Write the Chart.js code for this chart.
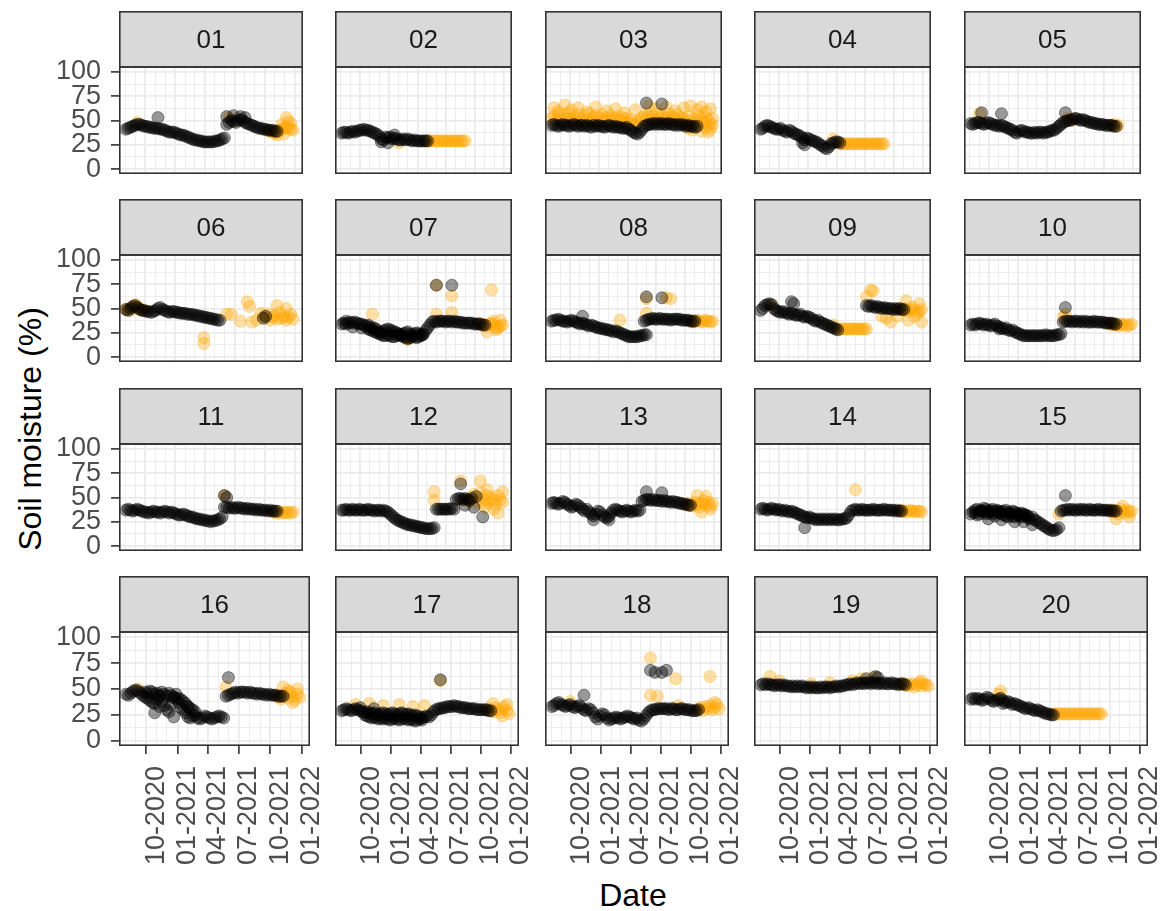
<!DOCTYPE html>
<html>
<head>
<meta charset="utf-8">
<title>Soil moisture by plot</title>
<script src="https://cdn.jsdelivr.net/npm/chart.js@4.4.1/dist/chart.umd.min.js"></script>
<style>
  html, body { margin: 0; padding: 0; background: #ffffff; }
  body { position: relative; width: 1168px; height: 911px; overflow: hidden;
         font-family: "Liberation Sans", Arial, Helvetica, sans-serif; }
  canvas { position: absolute; }
  .axis-title { position: absolute; font-size: 32px; color: #000000; white-space: nowrap; line-height: 1; }
  #ytitle { left: 30px; top: 429px; transform: translate(-50%, -50%) rotate(-90deg); }
  #xtitle { left: 633px; top: 879px; transform: translateX(-50%); }
</style>
</head>
<body>
<div id="ytitle" class="axis-title">Soil moisture (%)</div>
<div id="xtitle" class="axis-title">Date</div>
<script>
// ---------------------------------------------------------------------------
// Axis breaks
// ---------------------------------------------------------------------------
const xBreaks = ['2020-10-01', '2021-01-01', '2021-04-01', '2021-07-01', '2021-10-01', '2022-01-01'];
const xMinorBreaks = ['2020-08-01', '2020-09-01', '2020-11-01', '2020-12-01', '2021-02-01', '2021-03-01',
                      '2021-05-01', '2021-06-01', '2021-08-01', '2021-09-01', '2021-11-01', '2021-12-01'];
const yBreaks = [0, 25, 50, 75, 100];
const yMinorBreaks = [12.5, 37.5, 62.5, 87.5];

// ---------------------------------------------------------------------------
// Soil moisture readings per plot.
//   blackNN / orangeNN : weekly runs  [first date, [values...]]  (one value every 7 days)
//   blackDotsNN / orangeDotsNN : single readings [date, value]
// black = measured, orange = gap-filled
// ---------------------------------------------------------------------------
const black01 = [['2020-08-03', [41,42,43,44,45,46,46,45,44,44, 43,43,42,42,42,41,41,40,39,38, 38,38,37,36,35,35,34,33,32,31,
  30,30,29,29,28,28,28,28,28,29, 29,30,31,32, 46,48,50,49,48,50, 51,50,48,47,46,45,44,43,42,42, 41,41,40,40,40,39,39]]];
const orange01 = [['2021-10-11', [40,39,38,37,38,40,41,42,43,42,41,40]]];
const blackDots01 = [['2020-11-09',53],['2021-06-07',54],['2021-06-28',55],['2021-07-19',54],['2021-08-02',53]];
const orangeDots01 = [['2020-09-07',48],['2021-06-14',53],['2021-11-08',35],['2021-11-22',46],['2021-11-29',36],
  ['2021-12-06',53],['2021-12-13',49],['2021-12-20',47]];

const black02 = [['2020-08-03', [37,38,38,37,38,39,38,39,40,40, 41,40,40,39,38,37,36,34,31,30, 33,32,33,31,32,31,30,30,31,30,
  31,30,29,30,29,29,29,29,29,29]]];
const orange02 = [['2021-04-26', [29,29,29,29,29,29,29,29,29,29,29,29,29,29,29,29,29,29,29]]];
const blackDots02 = [['2020-12-07',28],['2020-12-28',27],['2021-01-18',35]];
const orangeDots02 = [['2021-02-01',27]];

const black03 = [['2020-08-03', [45,46,45,44,45,46,45,45,44,45, 46,45,44,45,45,44,45,44,43,45, 44,45,44,44,43,44,45,44,43,44,
  43,43,42,42,43,41,40,38,37,36, 38,41,44,45,46,46,47,46,47,46, 47,46,46,47,46,46,45,46,45,46, 45,44,45,44,44,43,44]]];
const orange03 = [['2020-08-03', [52,55,50,57,53,49,56,52,58,51, 54,50,56,52,49,55,51,57,50,53, 55,50,52,56,49,53,51,55,50,52,
  54,50,53,49,52,48,51,47,45,48, 50,53,55,52,56,51,54,50,57,52, 55,51,53,57,50,54,52,56,49,53, 51,48,54,50,47,52,49,55,51,48,
  53,50,46,52]]];
const blackDots03 = [['2021-05-31',68],['2021-07-19',67]];
const orangeDots03 = [['2020-08-10',63],['2020-08-24',60],['2020-09-14',66],['2020-10-05',61],['2020-10-26',63],['2020-11-23',59],
  ['2020-12-21',64],['2021-01-25',60],['2021-02-22',62],['2021-03-22',58],['2021-04-26',61],['2021-06-07',65],['2021-06-28',62],
  ['2021-08-02',64],['2021-08-30',60],['2021-09-27',63],['2021-10-18',65],['2021-11-08',61],['2021-11-22',64],['2021-12-06',59],
  ['2021-12-20',62],['2021-10-11',42],['2021-10-25',40],['2021-11-08',44],['2021-11-22',39],['2021-12-06',43],['2021-12-13',38],
  ['2021-12-20',41],['2021-12-27',45]];

const black04 = [['2020-08-03', [41,42,44,45,44,43,42,41,41,42, 40,39,38,40,39,37,36,35,34,32, 30,32,31,30,29,28,27,25,24,22,
  21,23,26,27,28,28,27]]];
const orange04 = [['2021-04-12', [26,26,26,26,26,26,26,26,26,26, 26,26,26,26,26,26,26,26,26,26, 26]]];
const blackDots04 = [['2020-12-14',27],['2020-12-21',25]];
const orangeDots04 = [['2021-03-22',31]];

const black05 = [['2020-08-03', [47,46,47,48,48,47,46,47,48,47, 46,45,45,44,45,44,43,42,41,40, 38,37,39,40,39,38,38,37,37,38,
  37,38,38,37,38,38,39,40,40,42, 44,46,48,49,50,50,51,52,52,51, 50,51,50,49,48,48,47,47,46,46, 46,45,45,45,45,44,44]]];
const orange05 = [['2021-10-25', [45,46,44,45]]];
const blackDots05 = [['2020-09-07',58],['2020-11-09',57],['2021-05-31',58]];
const orangeDots05 = [['2020-08-31',57],['2021-06-07',52],['2021-06-21',50]];

const black06 = [['2020-08-03', [49,48,50,52,53,51,49,48,48,47, 47,46,47,48,50,51,49,48,47,46, 47,47,46,46,45,45,45,44,44,44,
  43,43,42,42,41,41,40,40,39,39, 38,38]]];
const orange06 = [['2020-08-03', [49,50,48,51,54,52,50,49,48]],
  ['2021-09-20', [45,42,40,44,38,41,43,39,46,40,42,38,41,44,39]]];
const blackDots06 = [['2021-09-27',40],['2021-10-04',42]];
const orangeDots06 = [['2021-03-29',20],['2021-03-29',14],['2021-06-07',44],['2021-06-21',44],['2021-07-19',37],
  ['2021-08-09',57],['2021-08-16',52],['2021-08-23',36],['2021-09-06',38],['2021-11-08',53],['2021-12-06',50]];

const black07 = [['2020-08-03', [34,35,34,35,36,35,36,35,34,34, 33,32,33,31,30,30,28,26,25,27, 28,29,28,27,26,25,24,23,24,25,
  26,24,23,24,25,24,23,24,27,30, 33,36,37,36,37,37,37,36,37,37, 36,37,36,36,36,35,35,35,35,35, 34,34,34,34,33,33]],
  ['2020-10-26', [29,28,27,26,25,24,23,22,22,23, 22,21,21,22,23,22,21,20,19,20, 21,21,20,21,22,23]]];
const orange07 = [['2021-10-11', [35,34,33,33,32,34,35,33,31,30,32,33]]];
const blackDots07 = [['2020-08-17',37],['2020-09-07',31],['2020-10-05',30],['2021-05-31',74],['2021-07-19',74]];
const orangeDots07 = [['2020-11-09',44],['2021-03-01',18],['2021-03-08',20],['2021-05-31',74],['2021-05-31',44],['2021-07-19',63],
  ['2021-07-19',46],['2021-11-08',26],['2021-11-22',69],['2021-11-29',37],['2021-12-06',28],['2021-12-20',38]];

const black08 = [['2020-08-03', [37,38,38,39,38,37,37,36,37,38, 37,36,35,34,35,34,33,32,33,32, 31,30,30,29,29,28,28,27,26,27,
  26,25,24,23,22,21,21,21,21,21, 22,22,23,23]],
  ['2021-05-24', [37,38,39,39,40,39,39,40, 39,39,39,39,38,39,39,39,39,38, 38,38,38,37,37,37]]];
const orange08 = [['2021-10-18', [37,36,37,38,37,36,37,38,37,36,37]]];
const blackDots08 = [['2020-11-09',42],['2021-05-31',62],['2021-07-19',61]];
const orangeDots08 = [['2021-03-08',38],['2021-05-31',45],['2021-05-31',60],['2021-08-02',61],['2021-08-16',60]];

const black09 = [['2020-08-03', [48,50,53,54,55,54,50,48,47,46, 47,46,45,44,45,44,43,43,44,42, 41,42,41,40,38,37,38,36,35,34,
  33,32,31,30,29,28]],
  ['2021-07-05', [53,52,53,52,51,52,51,50,51,50,50,50, 49,50,49,50,49,49]]];
const orange09 = [['2021-04-05', [29,29,29,29,29,29,29,29,29,29,29,29,29,29]],
  ['2021-10-18', [50,49,48,50,47,49,51,48,45,47,49]]];
const blackDots09 = [['2020-11-09',57],['2020-11-16',55]];
const orangeDots09 = [['2020-09-07',53],['2021-03-22',33],['2021-07-05',62],['2021-07-19',69],['2021-07-26',68],['2021-08-23',42],
  ['2021-09-06',40],['2021-09-20',36],['2021-10-11',42],['2021-11-08',58],['2021-11-15',38],['2021-12-06',42],['2021-12-20',55],
  ['2021-12-27',36]];

const black10 = [['2020-08-03', [33,34,33,34,35,34,33,34,33,32, 33,34,32,31,30,29,30,28,27,28, 26,25,24,23,22,22,22,22,22,22,
  22,22,22,22,23,22,22,22,22,23, 23,24,36,37,37,37,36,37,37,36, 37,36,37,36,36,36,37,36,36,36, 36,35,35,35,35,34,34]]];
const orange10 = [['2021-10-18', [34,33,34,33,32,34,33,34,32,33,34]]];
const blackDots10 = [['2020-11-02',29],['2021-05-31',51]];
const orangeDots10 = [['2021-05-24',41],['2021-05-31',44]];

const black11 = [['2020-08-03', [37,38,37,36,37,38,37,36,35,35, 34,35,36,35,35,34,35,36,35,34, 35,34,33,32,32,33,32,31,30,30,
  29,28,28,27,27,26,26,25,26,26, 27,28,30, 40,40,39,40,39,39,40, 39,39,38,39,38,38,38,37,38,37, 37,37,36,37,36,36,36]]];
const orange11 = [['2021-10-25', [35,35,34,35,34,35,34,35,34,35]]];
const blackDots11 = [['2021-05-31',52],['2021-06-07',50]];
const orangeDots11 = [['2021-05-31',52]];

const black12 = [['2020-08-03', [37,37,38,37,37,38,37,37,38,37, 37,37,38,37,37,36,37,37,36,37, 36,35,33,31,29,27,26,25,24,23,
  22,22,21,21,20,20,19,19,18,18, 18,18,19, 38,38,38,38,38,38,38, 39,38,48,49,49,48,49,48,47,49, 40,51]]];
const orange12 = [['2021-08-23', [47]],
  ['2021-09-13', [46,50,53,45,49,55,44,48,52,45,50,47,43,52,48,45]]];
const blackDots12 = [['2021-08-16',64],['2021-08-30',42],['2021-10-25',30]];
const orangeDots12 = [['2021-05-24',56],['2021-05-24',47],['2021-08-16',67],['2021-10-18',67],['2021-11-08',58],['2021-11-29',38],
  ['2021-12-13',34],['2021-12-27',56],['2021-11-01',40]];

const black13 = [['2020-08-03', [44,45,44,43,44,46,45,43,42,40, 41,43,42,40,38,36,38,35,33,31, 33,36,35,32,30,29,31,34,37,38,
  37,36,35,36,37,36,35,36,37,36, 37,46,47,48,48,47,48,47,47,47, 46,47,46,46,45,46,45,45,44,44, 43,43,42,42]]];
const orange13 = [['2021-10-04', [43,44,42,41,45,43,40,44,47,42,45,41,44]]];
const blackDots13 = [['2020-12-14',27],['2021-02-01',27],['2021-05-31',56],['2021-07-19',55]];
const orangeDots13 = [['2021-11-08',52],['2021-11-22',35],['2021-12-06',51],['2021-12-20',38]];

const black14 = [['2020-08-03', [38,39,38,37,38,39,38,37,38,37, 36,37,36,35,36,35,34,33,32,31, 30,29,30,29,28,27,28,27,28,27,
  28,27,28,27,28,27,27,28,28,29, 32,36,37,38,37,37,38,37,37,37, 37,38,37,37,37,37,38,37,37,37, 37,36,37,36,36]]];
const orange14 = [['2021-10-18', [36,37,36,35,36,37,36,35,36,36,35]]];
const blackDots14 = [['2020-12-21',19]];
const orangeDots14 = [['2021-05-31',58]];

const black15 = [['2020-08-03', [33,35,34,32,33,36,35,33,34,35, 33,31,34,35,33,32,31,30,33,31, 30,32,31,30,32,31,29,28,30,27,
  26,24,23,21,20,18,17,16,16,17, 19,36,37,37,38,37,38,37,37,38, 37,38,37,37,38,37,37,37,38,37, 37,37,37,36,37,36,36]],
  ['2020-08-17', [37,38,36,37,39,38,36,37,38,36, 37,36,35,36,37,35,34,36,35,34, 33,34,33,32,31]]];
const orange15 = [['2021-10-18', [37,36,35,37,33,38,36,34,37,35,36]]];
const blackDots15 = [['2020-09-28',28],['2020-11-09',27],['2020-12-21',25],['2021-01-18',25],['2021-02-15',22],
  ['2021-05-31',52]];
const orangeDots15 = [['2021-05-10',33],['2021-11-08',28],['2021-11-29',41],['2021-12-20',30]];

const black16 = [['2020-08-03', [45,44,46,48,49,48,46,44,42,41, 39,37,36,40,43,38,34,30,28,35, 42,40,37,32,30,27,23,22,24,25,
  22,21,22,24,23,22,21,22,23,24, 23,22]],
  ['2020-09-28', [47,46,48,47,45,46,44,47,45,43, 46,44,42,45,41,40,38,36,33,31, 30,28]],
  ['2021-05-24', [43,44,45,46,47,46,47,47, 47,46,47,46,46,45,46,45,45,44, 45,44,44,44,43,43,43]]];
const orange16 = [['2021-10-18', [44,42,40,44,46,41,47,43,39,45,42]]];
const blackDots16 = [['2020-10-26',27],['2020-11-09',33],['2020-12-21',23],['2021-02-01',33],['2021-05-31',61]];
const orangeDots16 = [['2020-09-07',50],['2021-05-24',52],['2021-11-08',52],['2021-11-22',49],['2021-12-06',37],['2021-12-20',50]];

const black17 = [['2020-08-03', [29,30,31,30,29,30,31,30,29,28, 27,28,27,26,27,26,25,26,27,26, 25,26,27,26,25,26,27,26,25,26,
  25,24,25,24,23,22,23,24,23,25, 28,30,31,31,32,32,33,33,33,34, 33,33,32,32,32,31,31,31,31,30, 30,30,30,30,29,29]],
  ['2020-10-12', [25,24,23,22,23,22,21,22,21,22, 21,20,21,22,21,20,21,22,21,20, 21,20,19,20,21,20]]];
const orange17 = [['2021-10-18', [30,31,29,28,32,30,27,31,33,29,26]]];
const blackDots17 = [['2020-09-28',32],['2020-11-09',31],['2021-05-31',59]];
const orangeDots17 = [['2020-09-14',35],['2020-10-26',36],['2020-12-07',34],['2021-01-25',35],['2021-03-08',33],['2021-04-12',34],
  ['2021-05-31',58],['2021-11-08',36],['2021-12-06',24],['2021-12-20',35]];

const black18 = [['2020-08-03', [33,34,36,37,35,34,33,34,35,33, 32,33,34,32,30,29,31,30,27,23, 21,24,26,25,22,20,21,22,23,22,
  21,22,23,24,23,22,21,22,20,19, 21,24,27,29,30,30,31,31,31,31, 31,30,31,31,30,30,31,31,30,30, 30,29,29,29,30]]];
const orange18 = [['2021-10-18', [30,31,32,29,33,31,34,30,32,35,31]]];
const blackDots18 = [['2020-11-09',44],['2021-05-31',68],['2021-06-14',66],['2021-07-05',66],['2021-07-19',68]];
const orangeDots18 = [['2020-09-28',38],['2021-05-31',80],['2021-05-31',44],['2021-06-21',43],['2021-08-16',60],['2021-08-23',34],
  ['2021-11-29',62],['2021-12-13',37]];

const black19 = [['2020-08-03', [54,55,54,55,54,54,53,54,54,53, 54,53,53,52,53,52,53,52,53,52, 51,52,51,52,51,51,52,51,52,52,
  51,52,52,53,52,53,53,54,54,55, 54,55,56,55,56,55,56,56,55,56, 56,55,56,55,56,55,55,56,55,55, 54,55,55,54]]];
const orange19 = [['2021-10-04', [55,54,55,53,54,55,52,54,56,53,55,54,53]]];
const blackDots19 = [['2021-06-21',60],['2021-07-19',62],['2021-07-26',61]];
const orangeDots19 = [['2020-08-31',62],['2020-09-28',58],['2021-01-04',55],['2021-03-01',56],['2021-05-10',58],['2021-06-07',60],
  ['2021-07-12',61],['2021-12-06',58]];

const black20 = [['2020-08-03', [40,41,40,41,40,39,40,42,41,39, 38,39,40,41,39,37,38,37,35,36, 35,34,33,32,31,32,31,30,29,30,
  29,28,27,26,26,25,25]]];
const orange20 = [['2021-04-12', [26,26,26,26,26,26,26,26,26,26, 26,26,26,26,26,26,26,26,26,26, 26,26]]];
const blackDots20 = [['2020-11-09',36]];
const orangeDots20 = [['2020-11-02',48],['2020-10-26',45]];

// plot id, measured runs, gap-filled runs, measured singles, gap-filled singles
const plotTable = [
  ['01', black01, orange01, blackDots01, orangeDots01], ['02', black02, orange02, blackDots02, orangeDots02],
  ['03', black03, orange03, blackDots03, orangeDots03], ['04', black04, orange04, blackDots04, orangeDots04],
  ['05', black05, orange05, blackDots05, orangeDots05], ['06', black06, orange06, blackDots06, orangeDots06],
  ['07', black07, orange07, blackDots07, orangeDots07], ['08', black08, orange08, blackDots08, orangeDots08],
  ['09', black09, orange09, blackDots09, orangeDots09], ['10', black10, orange10, blackDots10, orangeDots10],
  ['11', black11, orange11, blackDots11, orangeDots11], ['12', black12, orange12, blackDots12, orangeDots12],
  ['13', black13, orange13, blackDots13, orangeDots13], ['14', black14, orange14, blackDots14, orangeDots14],
  ['15', black15, orange15, blackDots15, orangeDots15], ['16', black16, orange16, blackDots16, orangeDots16],
  ['17', black17, orange17, blackDots17, orangeDots17], ['18', black18, orange18, blackDots18, orangeDots18],
  ['19', black19, orange19, blackDots19, orangeDots19], ['20', black20, orange20, blackDots20, orangeDots20]
];

// ---------------------------------------------------------------------------
// Facet layout (pixels)
// ---------------------------------------------------------------------------
const STRIP = 56, PW = 191, PH = 114, XAXIS_H = 130, RIGHT_PAD = 26;
const colLeft = [119, 328, 538, 747, 957];
const rowTop = [67, 255, 444, 632];
const FONT = '"Liberation Sans", Arial, Helvetica, sans-serif';
const TICK_FONT = 27;
const STRIP_FONT = 26;
const POINT_R = 6;

Chart.defaults.font.family = FONT;

const DAY_MS = 864e5;
const toDay = s => Date.UTC(+s.slice(0, 4), +s.slice(5, 7) - 1, +s.slice(8, 10)) / DAY_MS;
const X_MIN = toDay('2020-07-13');
const X_MAX = toDay('2022-01-26');
const xTickDays = xBreaks.concat(xMinorBreaks).map(toDay).sort((a, b) => a - b);
const xMajor = new Map(xBreaks.map(s => [toDay(s), s.slice(5, 7) + '-' + s.slice(0, 4)]));
const yTickVals = yBreaks.concat(yMinorBreaks).sort((a, b) => a - b);
const yMajor = new Set(yBreaks);

function weeklyPoints(runs) {
  const pts = [];
  runs.forEach(([start, values]) => {
    const d0 = toDay(start);
    values.forEach((v, i) => { if (v !== null) pts.push({ x: d0 + 7 * i, y: v }); });
  });
  return pts;
}
const singlePoints = list => list.map(([d, v]) => ({ x: toDay(d), y: v }));

// strip header + panel border drawn around each chart area
const facetFrame = {
  id: 'facetFrame',
  afterDraw(chart, args, opts) {
    const { ctx, chartArea: a } = chart;
    const w = a.right - a.left, h = a.bottom - a.top;
    ctx.save();
    ctx.fillStyle = '#d9d9d9';
    ctx.fillRect(a.left, a.top - STRIP, w, STRIP);
    ctx.lineWidth = 1.6;
    ctx.strokeStyle = '#333333';
    ctx.strokeRect(a.left + 0.8, a.top - STRIP + 0.8, w - 1.6, STRIP - 0.8);
    ctx.strokeRect(a.left + 0.8, a.top, w - 1.6, h - 0.8);
    ctx.fillStyle = '#1a1a1a';
    ctx.font = STRIP_FONT + 'px ' + FONT;
    ctx.textAlign = 'center';
    ctx.textBaseline = 'middle';
    ctx.fillText(opts.label, a.left + w / 2, a.top - STRIP / 2 + 2);
    ctx.restore();
  }
};

function drawPlot([id, blackRuns, orangeRuns, blackDots, orangeDots], idx) {
  const r = Math.floor(idx / 5), c = idx % 5;
  const leftCol = c === 0, bottomRow = r === 3;
  const canvas = document.createElement('canvas');
  const cLeft = leftCol ? 0 : colLeft[c];
  const cw = (leftCol ? colLeft[0] : 0) + PW + (bottomRow ? RIGHT_PAD : 0);
  const ch = STRIP + PH + (bottomRow ? XAXIS_H : 0);
  canvas.width = cw; canvas.height = ch;
  canvas.style.left = cLeft + 'px';
  canvas.style.top = (rowTop[r] - STRIP) + 'px';
  canvas.style.width = cw + 'px';
  canvas.style.height = ch + 'px';
  document.body.appendChild(canvas);

  const measured = weeklyPoints(blackRuns).concat(singlePoints(blackDots));
  const filled = weeklyPoints(orangeRuns).concat(singlePoints(orangeDots));

  new Chart(canvas, {
    type: 'scatter',
    data: {
      datasets: [
        { label: 'measured', data: measured, pointRadius: POINT_R, pointBorderWidth: 1,
          pointBackgroundColor: 'rgba(0,0,0,0.4)', pointBorderColor: 'rgba(0,0,0,0.4)' },
        { label: 'gap-filled', data: filled, pointRadius: POINT_R, pointBorderWidth: 1,
          pointBackgroundColor: 'rgba(255,165,0,0.35)', pointBorderColor: 'rgba(255,165,0,0.35)' }
      ]
    },
    options: {
      responsive: false,
      animation: false,
      devicePixelRatio: 1,
      events: [],
      layout: { padding: { top: STRIP, left: 0, right: bottomRow ? RIGHT_PAD : 0, bottom: 0 } },
      plugins: { legend: { display: false }, tooltip: { enabled: false }, facetFrame: { label: id } },
      scales: {
        x: {
          type: 'linear', min: X_MIN, max: X_MAX,
          afterBuildTicks: s => { s.ticks = xTickDays.map(v => ({ value: v })); },
          afterFit: s => { s.height = bottomRow ? XAXIS_H : 0; s.paddingLeft = 0; s.paddingRight = 0; },
          border: { display: false },
          grid: {
            color: '#ebebeb',
            lineWidth: g => (g.tick && xMajor.has(g.tick.value)) ? 1.8 : 0.9,
            drawTicks: bottomRow, tickLength: 8, tickWidth: 1.6,
            tickColor: g => (g.tick && xMajor.has(g.tick.value)) ? '#333333' : 'rgba(0,0,0,0)'
          },
          ticks: {
            display: bottomRow, autoSkip: false, minRotation: 90, maxRotation: 90,
            padding: 12, labelOffset: 10, color: '#4d4d4d', font: { size: TICK_FONT },
            callback: v => xMajor.get(v) || ''
          }
        },
        y: {
          type: 'linear', min: -5, max: 105,
          afterBuildTicks: s => { s.ticks = yTickVals.map(v => ({ value: v })); },
          afterFit: s => { s.width = leftCol ? colLeft[0] : 0; s.paddingTop = 0; s.paddingBottom = 0; },
          border: { display: false },
          grid: {
            color: '#ebebeb',
            lineWidth: g => (g.tick && yMajor.has(g.tick.value)) ? 1.8 : 0.9,
            drawTicks: leftCol, tickLength: 8, tickWidth: 1.6,
            tickColor: g => (g.tick && yMajor.has(g.tick.value)) ? '#333333' : 'rgba(0,0,0,0)'
          },
          ticks: {
            display: leftCol, autoSkip: false, padding: 10, color: '#4d4d4d', font: { size: TICK_FONT },
            callback: v => yMajor.has(v) ? String(v) : ''
          }
        }
      }
    },
    plugins: [facetFrame]
  });
}

plotTable.forEach(drawPlot);
</script>
</body>
</html>
